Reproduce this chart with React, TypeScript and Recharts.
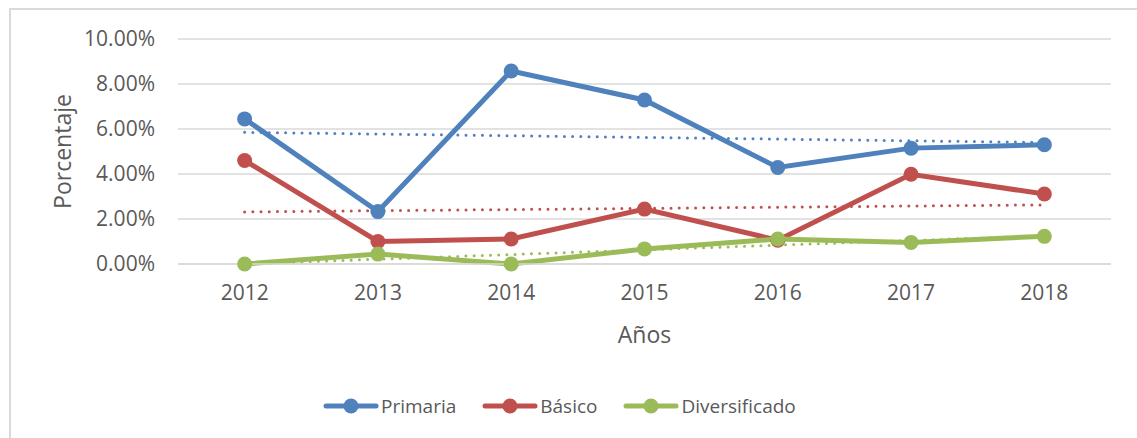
import React from 'react';
import { LineChart, Line, XAxis, YAxis, CartesianGrid, Legend } from 'recharts';

// Values (percent)
const years = ['2012', '2013', '2014', '2015', '2016', '2017', '2018'];
const primaria = [6.45, 2.33, 8.58, 7.29, 4.29, 5.15, 5.3];
const basico = [4.6, 1.0, 1.11, 2.44, 1.06, 3.99, 3.11];
const diversificado = [0.0, 0.44, 0.0, 0.67, 1.11, 0.96, 1.23];
const yTicks = [0, 2, 4, 6, 8, 10];

const FONT = "'Open Sans', sans-serif";
const TEXT = '#595959';
const GRID = '#d9d9d9';

// least squares fit, like an Excel linear trendline
const linearTrend = (vals: number[]) => {
  const n = vals.length;
  const mx = (n - 1) / 2;
  const my = vals.reduce((a, b) => a + b, 0) / n;
  let sxy = 0;
  let sxx = 0;
  vals.forEach((v, i) => {
    sxy += (i - mx) * (v - my);
    sxx += (i - mx) * (i - mx);
  });
  const slope = sxy / sxx;
  return vals.map((_, i) => my + slope * (i - mx));
};

const primariaTrend = linearTrend(primaria);
const basicoTrend = linearTrend(basico);
const diversificadoTrend = linearTrend(diversificado);

const data = years.map((year, i) => ({
  year,
  primaria: primaria[i],
  basico: basico[i],
  diversificado: diversificado[i],
  primariaTrend: primariaTrend[i],
  basicoTrend: basicoTrend[i],
  diversificadoTrend: diversificadoTrend[i],
}));

const series = [
  { key: 'primaria', name: 'Primaria', color: '#4f81bd' },
  { key: 'basico', name: 'Básico', color: '#c0504d' },
  { key: 'diversificado', name: 'Diversificado', color: '#9bbb59' },
];

const YTitle = (props: any) => {
  const { viewBox } = props;
  const cx = viewBox.x + 62;
  const cy = viewBox.y + viewBox.height / 2;
  return (
    <text
      x={cx}
      y={cy}
      transform={`rotate(-90, ${cx}, ${cy})`}
      textAnchor="middle"
      dominantBaseline="central"
      fontFamily={FONT}
      fontSize={23}
      fill={TEXT}
    >
      Porcentaje
    </text>
  );
};

const XTitle = (props: any) => {
  const { viewBox } = props;
  return (
    <text
      x={viewBox.x + viewBox.width / 2}
      y={viewBox.y + 79}
      textAnchor="middle"
      fontFamily={FONT}
      fontSize={23}
      fill={TEXT}
    >
      Años
    </text>
  );
};

const LegendContent = () => (
  <div style={{ display: 'flex', alignItems: 'center', fontFamily: FONT, fontSize: 19, color: TEXT }}>
    {series.map((s) => (
      <div key={s.key} style={{ display: 'flex', alignItems: 'center', marginRight: 26 }}>
        <svg width={56} height={20}>
          <line x1={3} y1={10} x2={53} y2={10} stroke={s.color} strokeWidth={5} strokeLinecap="round" />
          <circle cx={28} cy={10} r={7.5} fill={s.color} />
        </svg>
        <span style={{ marginLeft: 2 }}>{s.name}</span>
      </div>
    ))}
  </div>
);

export default function App() {
  return (
    <div style={{ position: 'absolute', left: 0, top: 0, width: 1137, height: 438, overflow: 'hidden', background: '#fff' }}>
      <div
        style={{
          position: 'absolute',
          left: 9,
          top: 8,
          width: 1200,
          height: 500,
          borderTop: `2px solid ${GRID}`,
          borderLeft: `2px solid ${GRID}`,
        }}
      />
      <LineChart width={1137} height={438} data={data} margin={{ top: 39, right: 26, left: 0, bottom: 74 }}>
        <CartesianGrid vertical={false} stroke={GRID} strokeWidth={1.5} />
        <XAxis
          dataKey="year"
          scale="band"
          tickLine={false}
          axisLine={{ stroke: GRID, strokeWidth: 1.5 }}
          tickSize={0}
          tickMargin={21}
          height={100}
          tick={{ fill: TEXT, fontSize: 21, fontFamily: FONT }}
          label={<XTitle />}
        />
        <YAxis
          width={178}
          domain={[0, 10]}
          ticks={yTicks}
          tickFormatter={(v: number) => `${v.toFixed(2)}%`}
          tickLine={false}
          axisLine={false}
          tickSize={0}
          tickMargin={23}
          tick={{ fill: TEXT, fontSize: 21, fontFamily: FONT }}
          label={<YTitle />}
        />
        <Legend
          layout="horizontal"
          verticalAlign="middle"
          align="center"
          content={<LegendContent />}
          wrapperStyle={{ left: 323, top: 393, width: 'auto' }}
        />
        {series.map((s) => (
          <Line
            key={s.key}
            dataKey={s.key}
            name={s.name}
            stroke={s.color}
            strokeWidth={5}
            dot={{ r: 7.5, fill: s.color, stroke: s.color, strokeWidth: 0 }}
            activeDot={false}
            isAnimationActive={false}
          />
        ))}
        {series.map((s) => (
          <Line
            key={`${s.key}Trend`}
            dataKey={`${s.key}Trend`}
            name={`Lineal (${s.name})`}
            legendType="none"
            stroke={s.color}
            strokeWidth={3}
            strokeDasharray="0 8.2"
            strokeLinecap="round"
            dot={false}
            activeDot={false}
            isAnimationActive={false}
          />
        ))}
      </LineChart>
    </div>
  );
}
